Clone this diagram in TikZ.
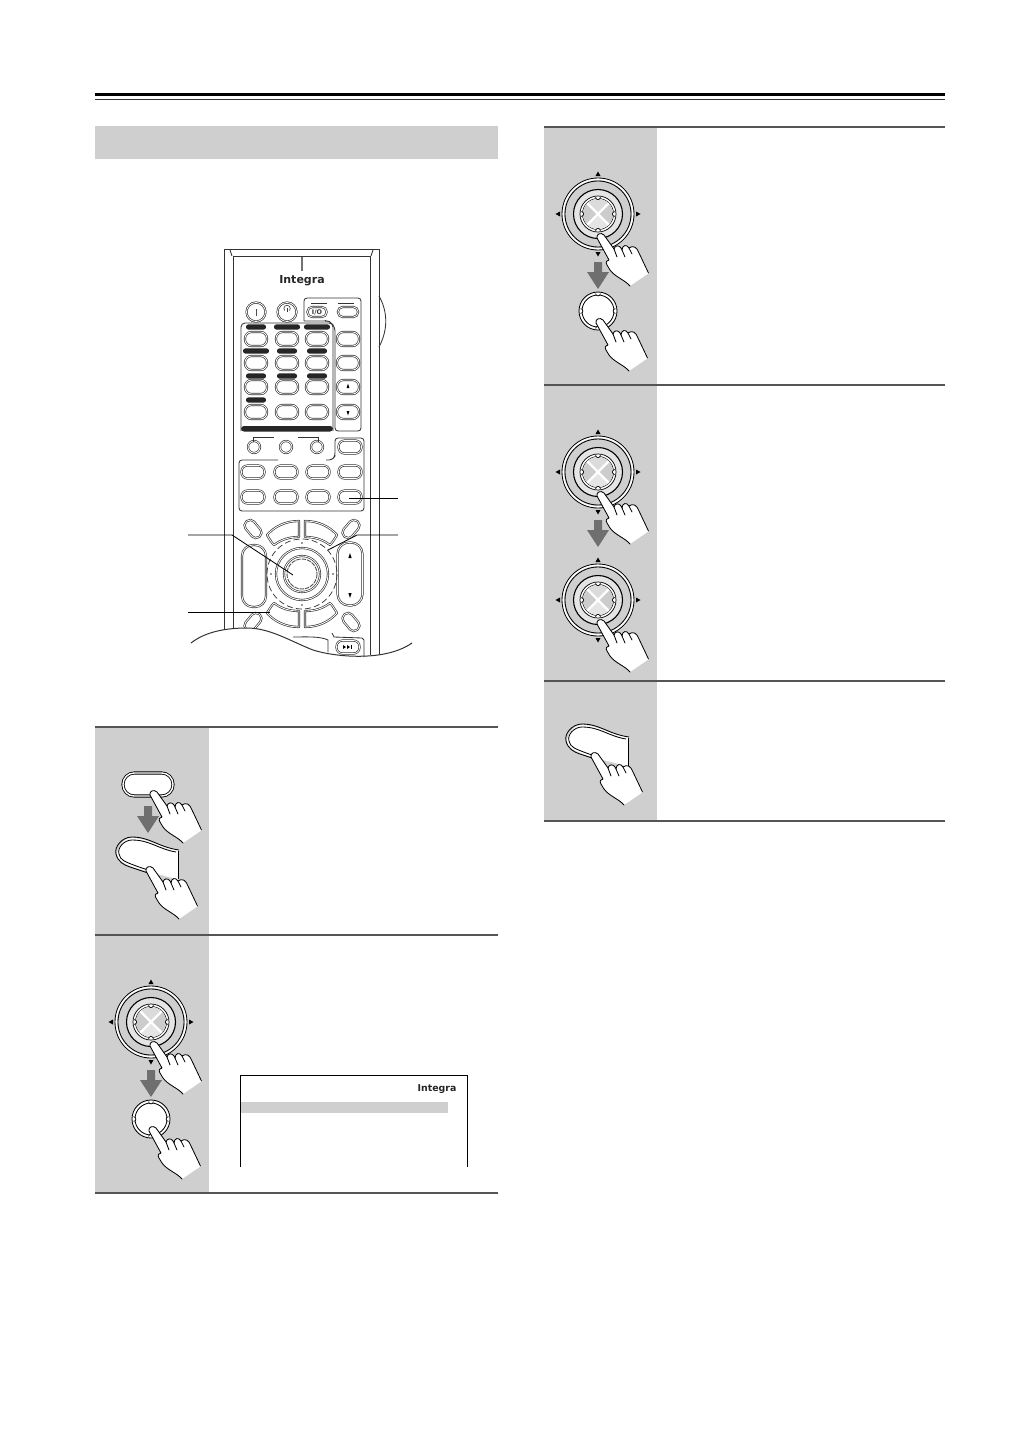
\documentclass[tikz,border=0pt]{standalone}
\usepackage{fontspec}
\setmainfont{DejaVu Sans}
\definecolor{panelgray}{HTML}{CFCFCF}
\definecolor{rulegray}{HTML}{555555}
\definecolor{arrowgray}{HTML}{6F6F6F}
\definecolor{btngray}{HTML}{333333}
\tikzset{
  thinline/.style={draw=black,line width=.42pt},
  remline/.style={draw=btngray,line width=.42pt},
  dblbtn/.style={draw=btngray,double=white,double distance=.42pt,line width=.33pt,fill=white},
  logo/.style={font=\bfseries,inner sep=0pt,text=black!85},
}
% ---- helpers -------------------------------------------------------
\newcommand{\pillat}[5]{% x y w h rot
  \path[dblbtn,rotate around={#5:(#1,#2)},rounded corners={min(#3,#4)*0.23pt}]
    ({#1-#3/2},{#2-#4/2}) rectangle ({#1+#3/2},{#2+#4/2});}
\newcommand{\handat}[2]{%
  \begin{scope}[shift={(#1,#2)}]
    \path[fill=white] (-4,1) .. controls (-5,-3) and (0,-5) .. (3,-2) -- (13,12)
      .. controls (14,8) and (18,8) .. (20,11) -- (21,13)
      .. controls (21,8) and (26,7) .. (28,11)
      .. controls (32,8) and (36,10) .. (38,16) -- (48,36) -- (29,49)
      .. controls (24,43) and (14,40) .. (9,33) -- (6,28)
      .. controls (4,25) and (6,23) .. (8,23) -- cycle;
    \draw[thinline,line join=round,line cap=round] (47.5,36) -- (38,16)
      .. controls (36,10) and (32,8) .. (28,11)
      .. controls (26,7) and (21,8) .. (21,13)
      -- (20,11) .. controls (18,8) and (14,8) .. (13,12) -- (3,-2)
      .. controls (0,-5) and (-5,-3) .. (-4,1) -- (8,23)
      .. controls (6,23) and (4,25) .. (6,28) -- (9,33)
      .. controls (14,40) and (24,43) .. (29,49);
    \draw[thinline,line cap=round] (13,12) -- (16,20) (21,13) -- (24,20) (28,11) -- (31,17);
  \end{scope}}
\newcommand{\notches}[1]{%
  \foreach \na in {0,90,180,270}{
    \draw[thinline,line width=.35pt,fill=white] (\na:#1) ++(\na+90:2.4) arc (\na+90:\na+270:2.4);
  }}
\newcommand{\bigknob}[2]{%
  \begin{scope}[shift={(#1,#2)}]
    \fill[black] (0,-42.5) -- (2.5,-38) -- (-2.5,-38) -- cycle;
    \fill[black] (0,42.5) -- (2.5,38) -- (-2.5,38) -- cycle;
    \fill[black] (-42.5,0) -- (-38,2.5) -- (-38,-2.5) -- cycle;
    \fill[black] (42.5,0) -- (38,2.5) -- (38,-2.5) -- cycle;
    \draw[thinline] (0,0) circle (36);
    \draw[draw=white,line width=.7pt] (0,0) circle (34.6);
    \draw[thinline] (0,0) circle (33);
    \draw[thinline,line width=.55pt,fill=white!90!black] (0,0) circle (24.5);
    \draw[thinline,line width=.36pt,fill=white] (0,0) circle (18);
    \draw[thinline,line width=.36pt] (0,0) circle (15.5);
    \begin{scope}
      \clip (0,0) circle (15.3);
      \fill[white!80!black] (0,0) -- (-16,-16) -- (-16,16) -- cycle;
      \fill[white!80!black] (0,0) -- (16,-16) -- (16,16) -- cycle;
      \fill[white!86!black] (0,0) -- (-16,-16) -- (16,-16) -- cycle;
      \fill[white!90!black] (0,0) -- (-16,16) -- (16,16) -- cycle;
      \draw[white,line width=1.2pt] (-16,-16) -- (16,16) (-16,16) -- (16,-16);
    \end{scope}
    \notches{16.8}
  \end{scope}}
\newcommand{\smallknob}[2]{%
  \begin{scope}[shift={(#1,#2)}]
    \draw[thinline,fill=white] (0,0) circle (19);
    \draw[thinline] (0,0) circle (16);
    \notches{17.5}
  \end{scope}}
\newcommand{\pushdown}[2]{%
  \fill[arrowgray] ({#1-4},#2) -- ({#1+4},#2) -- ({#1+4},{#2+10}) -- ({#1+11},{#2+10})
    -- (#1,{#2+27}) -- ({#1-11},{#2+10}) -- ({#1-4},{#2+10}) -- cycle;}
\newcommand{\blobat}[2]{%
  \begin{scope}[shift={(#1,#2)}]
    \path[fill=white] (117,853) .. controls (119,845) and (124,838) .. (132,838)
      .. controls (148,838) and (158,847) .. (178,850) -- (178,880)
      .. controls (165,875) and (145,872) .. (130,866)
      .. controls (123,863) and (116,859) .. (117,853) -- cycle;
    \draw[thinline,fill=none] (179,850) .. controls (158,847) and (150,837) .. (132,837)
      .. controls (122,837) and (114,847) .. (116,854)
      .. controls (118,862) and (124,865) .. (130,867)
      .. controls (136,869) and (142,871) .. (148,873);
    \draw[thinline] (178,851) -- (178,879);
    \draw[thinline] (176,852) .. controls (158,849) and (150,840) .. (132,840)
      .. controls (124,840) and (117,848) .. (119,854)
      .. controls (120,860) and (126,862) .. (131,864)
      .. controls (136,866) and (142,868) .. (148,870);
  \end{scope}}
\begin{document}
\begin{tikzpicture}[x=0.5pt,y=-0.5pt]
\useasboundingbox (0,0) rectangle (1030,1456);
\fill[white] (0,0) rectangle (1030,1456);

% header rules
\fill[black] (95,92.5) rectangle (945,96);
\fill[black!80] (95,99) rectangle (945,100);

% section bar
\fill[panelgray] (95,126) rectangle (498,159);

% ---- left step table
\fill[panelgray] (95,727) rectangle (209,1193);
\foreach \ly in {727,935,1193} \draw[rulegray,line width=.9pt] (95,\ly) -- (498,\ly);

% ---- right step table
\fill[panelgray] (544,127) rectangle (657,821);
\foreach \ly in {127,385,681,821} \draw[rulegray,line width=.9pt] (544,\ly) -- (945,\ly);

% step 1
\path[fill=white,draw=black,double=white,double distance=.7pt,line width=.42pt,rounded corners=5.6pt] (123,773) rectangle (173,796);
\handat{154}{794}
\pushdown{148}{806}
\blobat{0}{0}
\handat{150}{870}

% step 2
\bigknob{151}{1022}
\handat{154}{1045}
\pushdown{151}{1070}
\smallknob{151}{1119}
\handat{153}{1130}

% OSD window
\draw[thinline,line width=.5pt] (240,1167) -- (240,1075) -- (467,1075) -- (467,1167);
\fill[panelgray] (240.5,1102) rectangle (448,1113);
\node[logo,font=\bfseries\fontsize{4.7}{6}\selectfont,anchor=center] (osdlogo) at (437,1089) {Integra};

% step 3
\bigknob{598}{214}
\handat{601}{237}
\pushdown{598}{262}
\smallknob{598}{311}
\handat{600}{322}

% step 4
\bigknob{598}{472}
\handat{601}{495}
\pushdown{598}{520}
\bigknob{598}{600}
\handat{601}{623}

% step 5
\blobat{450}{-113}
\handat{595}{756}

% ---- remote control
% body
\draw[remline] (224,655) -- (224,249) -- (379,249) -- (379,655);
\draw[remline] (233,655) -- (233,256) -- (370,256) -- (370,655);
\draw[remline] (230,250) -- (232,256) (373,250) -- (371,256);
\draw[white!45!black,line width=.9pt] (302,257) -- (302,271);
\node[logo,font=\bfseries\fontsize{5.5}{7}\selectfont] (remlogo) at (302,281) {Integra};
% side wheel
\draw[remline] (379,296) .. controls (388,312) and (388,330) .. (379,347);

% top buttons
\draw[dblbtn] (256,312) circle (9.5);
\draw[dblbtn] (287,312) circle (9.5);
\draw[black!70,line width=.4pt] (256,308.5) -- (256,315.5);
\draw[black!80,line width=.3pt] (284.6,310.5) arc (140:400:3.2);
\draw[black!80,line width=.3pt] (287,307.5) -- (287,312);
% right hand group
\draw[remline,rounded corners=1.5pt] (304,321) -- (304,298) -- (361,298) -- (361,431) -- (335,431) -- (335,328) -- (331,322) -- (327,321) -- (304,321);
\draw[remline] (311,303) -- (327,303) (338,303) -- (354,303);
\pillat{317}{312}{19}{10}{0}
\node[inner sep=0pt,font=\bfseries\fontsize{3.2}{4}\selectfont,text=black!80] (iolabel) at (317,312) {I/O};
\pillat{348}{312}{20}{10}{0}
\pillat{348}{339}{22}{14}{0}
\pillat{348}{363}{22}{14}{0}
\pillat{348}{387}{22}{14}{0}
\pillat{348}{412}{22}{14}{0}
\fill[black] (348,383.5) -- (349.4,388) -- (346.6,388) -- cycle;
\fill[black] (348,415.5) -- (349.4,411) -- (346.6,411) -- cycle;

% input panel
\draw[remline,rounded corners=2pt] (241,431) -- (241,323) -- (333,323) -- (333,431);
\fill[black!85,rounded corners=1.5pt] (241,426) rectangle (333,431.5);
\foreach \cx/\cy/\cw in {256/327/20,287/327/26,317/327/26,
                         256/351/26,287/351/20,317/351/20,
                         256/376/20,287/376/20,317/376/20,
                         256/400/20}{
  \fill[black!85,rounded corners=1.2pt] ({\cx-\cw/2},{\cy-2.6}) rectangle ({\cx+\cw/2},{\cy+2.6});
}
\foreach \cy in {339,363,387,412}{
  \pillat{256}{\cy}{22}{14}{0}
  \pillat{287}{\cy}{22}{14}{0}
  \pillat{317}{\cy}{22}{14}{0}
}

% small round row
\foreach \cx in {254,286,317} \draw[dblbtn] (\cx,447) circle (6);
\draw[remline] (253,442) -- (253,437) -- (274,437) (298,437) -- (318,437) -- (318,442);
\draw[remline,rounded corners=1.5pt] (278,460) -- (239,460) -- (239,511) -- (364,511) -- (364,438) -- (335,438) -- (335,456) -- (332,460) -- (326,460);
\pillat{350}{447}{23}{13}{0}
\foreach \cy in {472,497}{
  \foreach \cx in {253,286,318,350}{ \pillat{\cx}{\cy}{23}{13}{0} }
}

% navigation cluster
\pillat{253}{529}{20}{11}{-50}
\pillat{351}{529}{20}{11}{50}
\pillat{253}{622}{20}{11}{50}
\pillat{351}{622}{20}{11}{-50}
\foreach \ya in {1,-1}{
  \foreach \xa in {1,-1}{
    \begin{scope}[shift={(302,574)},yscale=\ya,xscale=\xa]
      \path[dblbtn,line join=round] (3,-37) -- (3,-53) .. controls (17,-53) and (28,-47) .. (35,-39)
        .. controls (32,-34) and (30,-31) .. (28,-29) .. controls (20,-35) and (12,-37) .. cycle;
    \end{scope}
  }
}
\pillat{254}{576}{24}{62}{0}
\pillat{350}{574}{25}{63}{0}
\fill[black] (350,553) -- (351.6,558) -- (348.4,558) -- cycle;
\fill[black] (350,598) -- (351.6,593) -- (348.4,593) -- cycle;
\draw[black!80,line width=.36pt,dash pattern=on 3pt off 1.6pt] (302,574) circle (35);
\foreach \na in {0,90,180,270}{ \fill[black!80] (302,574) ++(\na:31) circle (.8); }
\draw[dblbtn] (302,574) circle (26);
\draw[dblbtn] (302,574) circle (18);
\draw[black!70,line width=.45pt,dash pattern=on 2.2pt off .5pt] (302,574) circle (15);

% callouts
\coordinate (c1a) at (398,498); \coordinate (c1b) at (349,498);
\draw[thinline] (c1a) -- (c1b);
\coordinate (c2a) at (398,535); \coordinate (c2b) at (357,535); \coordinate (c2c) at (328,550);
\draw[thinline] (c2a) -- (c2b) -- (c2c);
\coordinate (c3a) at (188,535); \coordinate (c3b) at (232,535); \coordinate (c3c) at (293,575);
\draw[thinline] (c3a) -- (c3b) -- (c3c);
\coordinate (c4a) at (188,612); \coordinate (c4b) at (270,612);
\draw[thinline] (c4a) -- (c4b);

% cut-away wave at the bottom
\path[fill=white] (191,643) .. controls (205,632) and (225,628) .. (247,628)
  .. controls (270,628) and (290,641) .. (313,650)
  .. controls (335,657) and (385,662) .. (412,643) -- (412,670) -- (191,670) -- cycle;
\draw[remline,line width=.5pt] (191,643) .. controls (205,632) and (225,628) .. (247,628)
  .. controls (270,628) and (290,641) .. (313,650)
  .. controls (335,657) and (385,662) .. (412,643);
\draw[remline] (293,637) .. controls (305,637) and (320,636) .. (328,640) -- (328,652);
\draw[remline] (332,633) -- (334,637) -- (362,638) -- (364,640) -- (364,657);
\pillat{348}{647}{23}{13}{0}
\fill[black] (343,645) -- (346,647) -- (343,649) -- cycle;
\fill[black] (347,645) -- (350,647) -- (347,649) -- cycle;
\fill[black] (351,645) rectangle (352,649);
\end{tikzpicture}
\end{document}
